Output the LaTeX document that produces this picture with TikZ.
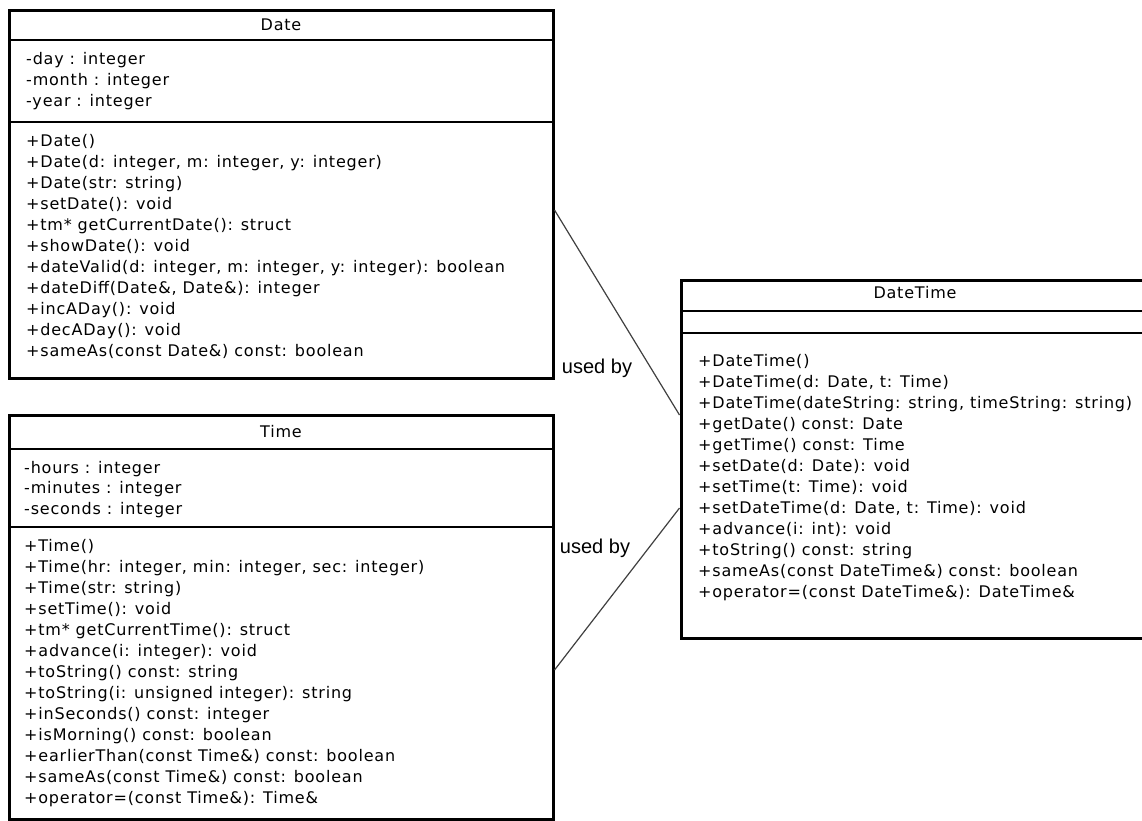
\documentclass[tikz,border=0pt]{standalone}
\usepackage{fontspec}
\setmainfont[LetterSpace=5]{DejaVu Sans}
\newfontfamily\labelfont{Liberation Sans}
\newcommand\memberlist[5]{\foreach \t [count=\i from 0] in {#5} {\node[member] (#1\i) at (#2,{#3+#4*\i}) {\t};}}
\begin{document}
\begin{tikzpicture}[x=1pt,y=-1pt,
  classbox/.style={draw=black, line width=3pt, fill=white, inner sep=0pt},
  member/.style={anchor=base west, inner sep=0pt, font=\fontsize{16}{21}\selectfont},
  ctitle/.style={anchor=base, inner sep=0pt, font=\fontsize{16}{21}\selectfont},
  sepline/.style={line width=1.6pt},
  conn/.style={line width=1.2pt, draw=black!75},
  usedby/.style={inner sep=0pt, font=\labelfont\fontsize{20}{22}\selectfont}]
\useasboundingbox[fill=white] (0,0) rectangle (1142,820);

% Date
\node[classbox, minimum width=544pt, minimum height=368pt] (date) at (281,194) {};
\draw[sepline] (9,40) -- (553,40);
\draw[sepline] (9,122) -- (553,122);
\node[ctitle] (datetitle) at (281,30) {Date};
\memberlist{da}{26}{64}{21}{-day : integer,-month : integer,-year : integer}
\memberlist{dm}{26}{146}{21}{+Date(),{+Date(d: integer, m: integer, y: integer)},+Date(str: string),+setDate(): void,+tm* getCurrentDate(): struct,+showDate(): void,{+dateValid(d: integer, m: integer, y: integer): boolean},{+dateDiff(Date\&, Date\&): integer},+incADay(): void,+decADay(): void,+sameAs(const Date\&) const: boolean}

% Time
\node[classbox, minimum width=544pt, minimum height=404pt] (time) at (281,617) {};
\draw[sepline] (9,449) -- (553,449);
\draw[sepline] (9,527) -- (553,527);
\node[ctitle] (timetitle) at (281,437) {Time};
\memberlist{ta}{24}{473}{20.5}{-hours : integer,-minutes : integer,-seconds : integer}
\memberlist{tm}{24}{551}{21}{+Time(),{+Time(hr: integer, min: integer, sec: integer)},+Time(str: string),+setTime(): void,+tm* getCurrentTime(): struct,+advance(i: integer): void,+toString() const: string,+toString(i: unsigned integer): string,+inSeconds() const: integer,+isMorning() const: boolean,+earlierThan(const Time\&) const: boolean,+sameAs(const Time\&) const: boolean,+operator=(const Time\&): Time\&}

% DateTime
\node[classbox, minimum width=469pt, minimum height=358pt] (datetime) at (915.5,459) {};
\draw[sepline] (681,311) -- (1150,311);
\draw[sepline] (681,333) -- (1150,333);
\node[ctitle] (dttitle) at (915,298) {DateTime};
\memberlist{dtm}{698}{366}{21}{+DateTime(),{+DateTime(d: Date, t: Time)},{+DateTime(dateString: string, timeString: string)},+getDate() const: Date,+getTime() const: Time,+setDate(d: Date): void,+setTime(t: Time): void,{+setDateTime(d: Date, t: Time): void},+advance(i: int): void,+toString() const: string,+sameAs(const DateTime\&) const: boolean,+operator=(const DateTime\&): DateTime\&}

% connectors
\draw[conn] ([yshift=-16pt]date.east) -- ([yshift=44pt]datetime.west);
\draw[conn] ([yshift=-53pt]time.east) -- ([yshift=-49pt]datetime.west);
\node[usedby] (u1) at (597,368) {used by};
\node[usedby] (u2) at (595,548) {used by};
\end{tikzpicture}
\end{document}
